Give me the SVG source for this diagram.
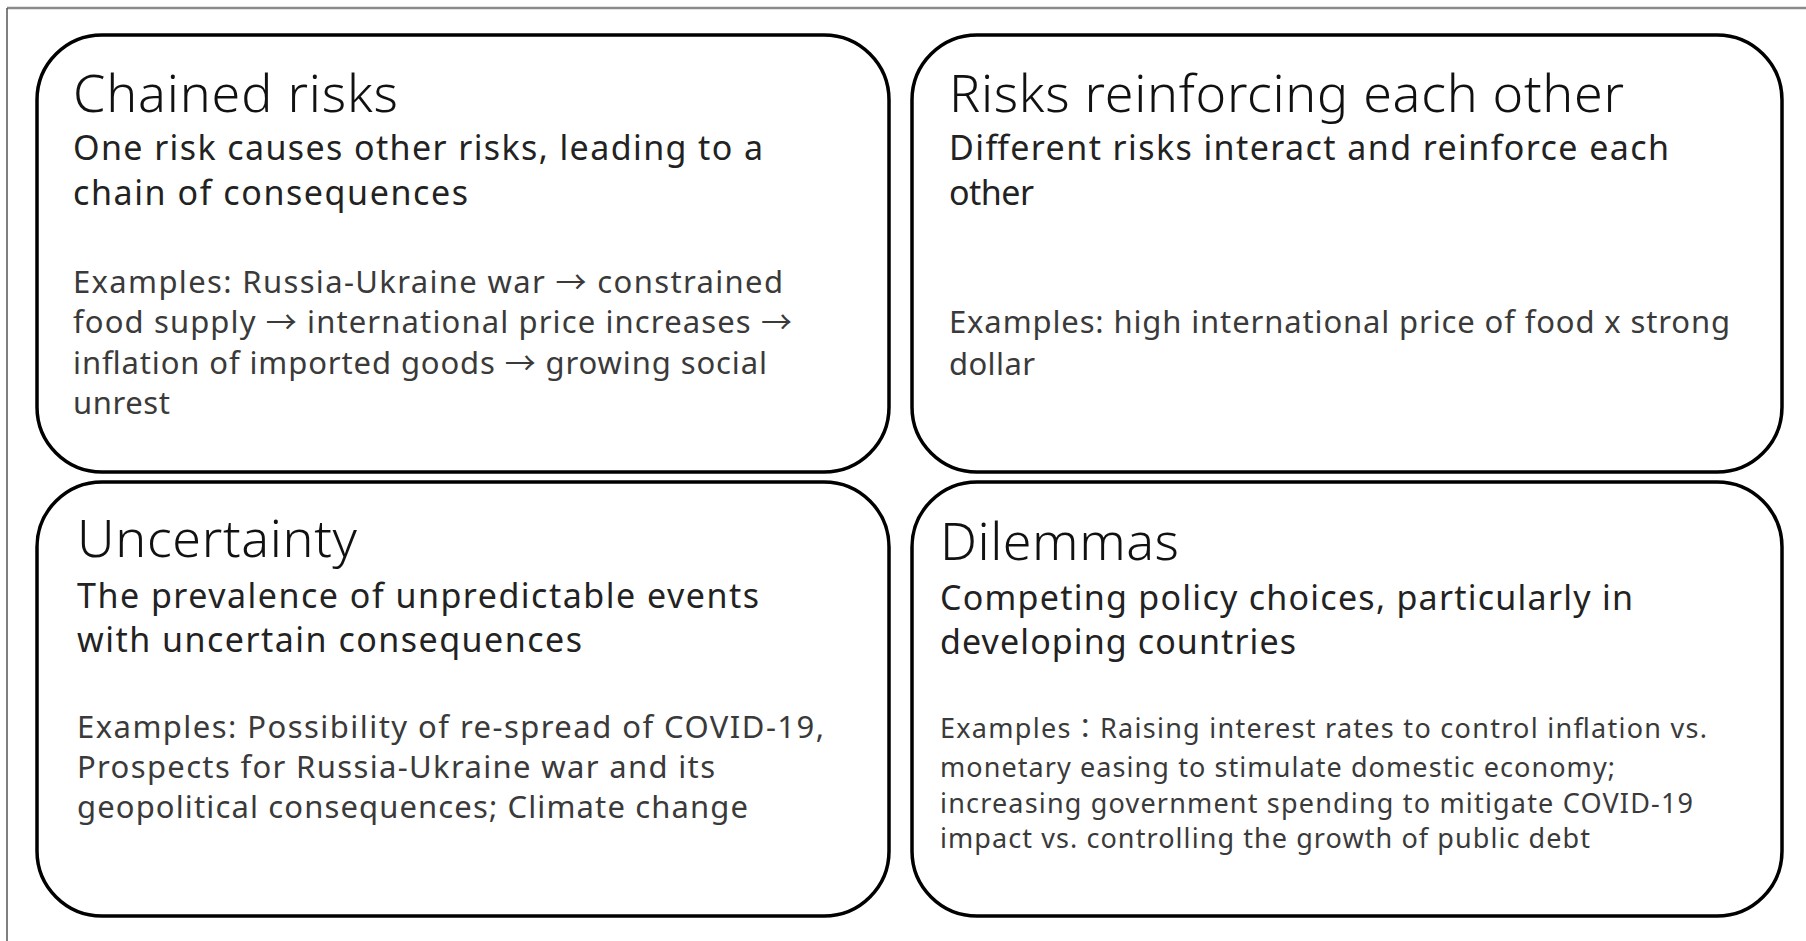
<svg xmlns="http://www.w3.org/2000/svg" width="1806" height="941" viewBox="0 0 1806 941">
  <style>
    text { font-family: "Noto Sans", "Noto Sans CJK JP", "Liberation Sans", sans-serif; }
    .card { fill: #ffffff; stroke: #000000; stroke-width: 3.5; }
    .title { font-size: 52px; font-weight: 300; fill: #111111; }
    .sub { font-size: 34px; fill: #222222; }
    .ex { font-size: 31px; fill: #3a3a3a; }
    .ex-sm { font-size: 27px; fill: #3a3a3a; }
  </style>

  <rect x="0" y="0" width="1806" height="941" fill="#ffffff"/>

  <!-- page frame -->
  <g id="frame">
    <line x1="7" y1="8" x2="1806" y2="8" stroke="#8a8a8a" stroke-width="2.5"/>
    <line x1="7" y1="8" x2="7" y2="941" stroke="#555555" stroke-width="1.5"/>
  </g>

  <!-- no connectors in this layout -->
  <g id="connectors"></g>

  <g id="chained-risks">
    <rect class="card" x="37" y="35" width="852" height="437" rx="65" ry="65"/>
    <text class="title" x="73" y="112" textLength="325" lengthAdjust="spacing">Chained risks</text>
    <text class="sub" x="73" y="160" textLength="690" lengthAdjust="spacing">One risk causes other risks, leading to a</text>
    <text class="sub" x="73" y="205" textLength="395" lengthAdjust="spacing">chain of consequences</text>
    <text class="ex" x="73" y="293" textLength="710" lengthAdjust="spacing">Examples: Russia-Ukraine war → constrained</text>
    <text class="ex" x="73" y="333" textLength="719" lengthAdjust="spacing">food supply → international price increases →</text>
    <text class="ex" x="73" y="374" textLength="694" lengthAdjust="spacing">inflation of imported goods → growing social</text>
    <text class="ex" x="73" y="414" textLength="97" lengthAdjust="spacing">unrest</text>
  </g>

  <g id="risks-reinforcing">
    <rect class="card" x="912" y="35" width="870" height="437" rx="65" ry="65"/>
    <text class="title" x="949" y="112" textLength="675" lengthAdjust="spacing">Risks reinforcing each other</text>
    <text class="sub" x="949" y="160" textLength="720" lengthAdjust="spacing">Different risks interact and reinforce each</text>
    <text class="sub" x="949" y="205" textLength="85" lengthAdjust="spacing">other</text>
    <text class="ex" x="949" y="333" textLength="781" lengthAdjust="spacing">Examples: high international price of food x strong</text>
    <text class="ex" x="949" y="375" textLength="86" lengthAdjust="spacing">dollar</text>
  </g>

  <g id="uncertainty">
    <rect class="card" x="37" y="482" width="852" height="434" rx="65" ry="65"/>
    <text class="title" x="77" y="557" textLength="280" lengthAdjust="spacing">Uncertainty</text>
    <text class="sub" x="77" y="608" textLength="682" lengthAdjust="spacing">The prevalence of unpredictable events</text>
    <text class="sub" x="77" y="652" textLength="505" lengthAdjust="spacing">with uncertain consequences</text>
    <text class="ex" x="77" y="738" textLength="747" lengthAdjust="spacing">Examples: Possibility of re-spread of COVID-19,</text>
    <text class="ex" x="77" y="778" textLength="638" lengthAdjust="spacing">Prospects for Russia-Ukraine war and its</text>
    <text class="ex" x="77" y="818" textLength="671" lengthAdjust="spacing">geopolitical consequences; Climate change</text>
  </g>

  <g id="dilemmas">
    <rect class="card" x="912" y="482" width="870" height="434" rx="65" ry="65"/>
    <text class="title" x="940" y="560" textLength="239" lengthAdjust="spacing">Dilemmas</text>
    <text class="sub" x="940" y="610" textLength="693" lengthAdjust="spacing">Competing policy choices, particularly in</text>
    <text class="sub" x="940" y="654" textLength="356" lengthAdjust="spacing">developing countries</text>
    <text class="ex-sm" x="940" y="738" textLength="767" lengthAdjust="spacing">Examples：Raising interest rates to control inflation vs.</text>
    <text class="ex-sm" x="940" y="777" textLength="675" lengthAdjust="spacing">monetary easing to stimulate domestic economy;</text>
    <text class="ex-sm" x="940" y="813" textLength="753" lengthAdjust="spacing">increasing government spending to mitigate COVID-19</text>
    <text class="ex-sm" x="940" y="848" textLength="650" lengthAdjust="spacing">impact vs. controlling the growth of public debt</text>
  </g>
</svg>
